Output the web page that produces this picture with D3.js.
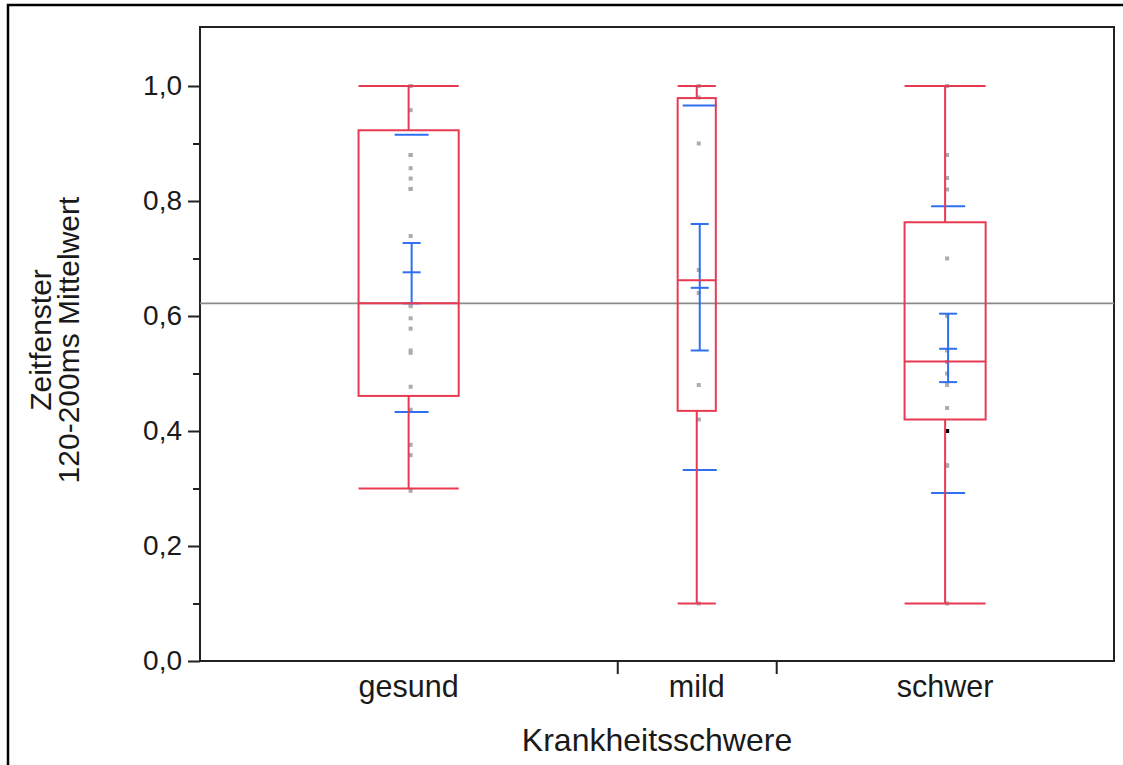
<!DOCTYPE html>
<html>
<head>
<meta charset="utf-8">
<script src="https://cdn.jsdelivr.net/npm/d3@7"></script>
<style>
  html, body { margin: 0; padding: 0; background: #fff; }
  svg text { font-family: "Liberation Sans", Arial, sans-serif; fill: #1a1a1a; }
</style>
</head>
<body>
<svg id="chart" width="1123" height="765"></svg>
<script>
// Groups and their sizes (group width on the x axis is proportional to N)
const categories = ["gesund", "mild", "schwer"];
const groupN = [21, 8, 17];

// Box-plot statistics per group
const whiskerHigh = [1.0, 1.0, 1.0];
const quartile3   = [0.923, 0.979, 0.763];
const medians     = [0.622, 0.662, 0.521];
const quartile1   = [0.461, 0.435, 0.420];
const whiskerLow  = [0.30, 0.10, 0.10];

// Mean, 95% confidence interval and ±1 SD per group
const means  = [0.676, 0.649, 0.543];
const ciHigh = [0.727, 0.760, 0.604];
const ciLow  = [0.622, 0.540, 0.485];
const sdHigh = [0.915, 0.966, 0.791];
const sdLow  = [0.433, 0.332, 0.292];

// Overall mean of all observations
const grandMean = 0.622;

// Individual observations
const pointsGesund = [1.0, 1.0, 0.958, 0.88, 0.88, 0.857, 0.839, 0.821, 0.821, 0.739,
                      0.62, 0.617, 0.596, 0.578, 0.536, 0.54, 0.477, 0.437, 0.376, 0.358, 0.296];
const pointsMild   = [1.0, 0.98, 0.90, 0.68, 0.64, 0.48, 0.42, 0.10];
const pointsSchwer = [1.0, 0.88, 0.84, 0.82, 0.70, 0.60, 0.54, 0.52, 0.50, 0.48,
                      0.44, 0.40, 0.40, 0.34, 0.34, 0.34, 0.10];
const observations = [pointsGesund, pointsMild, pointsSchwer];
// Highlighted observation (group index, value)
const highlighted = [{ group: 2, value: 0.40 }];

// Axis ticks
const yMajorTicks = [0, 0.2, 0.4, 0.6, 0.8, 1.0];
const yMinorTicks = [0.1, 0.3, 0.5, 0.7, 0.9];
const yTitleLines = ["Zeitfenster", "120-200ms Mittelwert"];
const xTitle = "Krankheitsschwere";

const plot = { left: 200, right: 1114, top: 27, bottom: 661 };
const red = "#e83a52", blue = "#2f6ff0";

const svg = d3.select("#chart");

// Outer frame of the graphic
svg.append("path")
  .attr("d", `M8,765 V5 H1123`)
  .attr("fill", "none").attr("stroke", "#000").attr("stroke-width", 2.5);

const y = d3.scaleLinear().domain([0, 1.1026]).range([plot.bottom, plot.top]);

// Cumulative group boundaries
const cum = [0];
groupN.forEach((n, i) => cum.push(cum[i] + n));
const x = d3.scaleLinear().domain([0, cum[cum.length - 1]]).range([plot.left, plot.right]);
const groups = categories.map((c, i) => {
  const x0 = x(cum[i]), x1 = x(cum[i + 1]);
  return { name: c, i, x0, x1, cx: (x0 + x1) / 2, half: (x1 - x0) * 0.12 };
});

const locale = d3.formatLocale({ decimal: ",", thousands: ".", grouping: [3], currency: ["", "€"] });
const fmt = locale.format(".1f");

// Plot frame
svg.append("rect")
  .attr("x", plot.left).attr("y", plot.top)
  .attr("width", plot.right - plot.left).attr("height", plot.bottom - plot.top)
  .attr("fill", "none").attr("stroke", "#222").attr("stroke-width", 2);

// Y axis: major ticks with labels, minor ticks without
const yAxis = svg.append("g").attr("transform", `translate(${plot.left},0)`)
  .call(d3.axisLeft(y).tickValues(yMajorTicks).tickSize(12).tickPadding(6).tickFormat(fmt));
yAxis.select(".domain").remove();
yAxis.selectAll("line").attr("stroke", "#222").attr("stroke-width", 2);
yAxis.selectAll("text").attr("font-size", 28).attr("fill", "#1a1a1a")
  .attr("font-family", "Liberation Sans, Arial, sans-serif");

const yMinor = svg.append("g").attr("transform", `translate(${plot.left},0)`)
  .call(d3.axisLeft(y).tickValues(yMinorTicks).tickSize(7).tickFormat(""));
yMinor.select(".domain").remove();
yMinor.selectAll("line").attr("stroke", "#222").attr("stroke-width", 2);

// X axis: ticks at the group boundaries
const xAxis = svg.append("g").attr("transform", `translate(0,${plot.bottom})`)
  .call(d3.axisBottom(x).tickValues(cum.slice(1, -1)).tickSize(13).tickFormat(""));
xAxis.select(".domain").remove();
xAxis.selectAll("line").attr("stroke", "#222").attr("stroke-width", 2);

// Category labels
svg.append("g").selectAll("text").data(groups).join("text")
  .attr("x", d => d.cx).attr("y", 697)
  .attr("text-anchor", "middle").attr("font-size", 30.5)
  .text(d => d.name);

// Axis titles
svg.append("text")
  .attr("x", (plot.left + plot.right) / 2).attr("y", 751)
  .attr("text-anchor", "middle").attr("font-size", 32)
  .text(xTitle);

const yTitle = svg.append("text")
  .attr("transform", "translate(51,340) rotate(-90)")
  .attr("text-anchor", "middle").attr("font-size", 30);
yTitle.selectAll("tspan").data(yTitleLines).join("tspan")
  .attr("x", 0).attr("dy", (d, i) => i === 0 ? 0 : 28)
  .text(d => d);

// Grand mean reference line
svg.append("line")
  .attr("x1", plot.left).attr("x2", plot.right)
  .attr("y1", y(grandMean)).attr("y2", y(grandMean))
  .attr("stroke", "#8a8a8a").attr("stroke-width", 1.6);

// Observations
const ptOffset = 2;
groups.forEach(g => {
  svg.append("g").selectAll("rect").data(observations[g.i]).join("rect")
    .attr("x", g.cx + ptOffset - 2).attr("y", d => y(d) - 2)
    .attr("width", 4).attr("height", 4)
    .attr("fill", "#acacac");
});
svg.append("g").selectAll("rect").data(highlighted).join("rect")
  .attr("x", d => groups[d.group].cx + ptOffset - 2).attr("y", d => y(d.value) - 2)
  .attr("width", 4).attr("height", 4).attr("fill", "#000");

// Mean, confidence interval and standard deviation marks
const stats = svg.append("g").attr("fill", "none").attr("stroke", blue).attr("stroke-width", 2);
const bOff = 3, ciHalf = 9, sdHalf = 17;
groups.forEach(g => {
  const i = g.i, bx = g.cx + bOff;
  stats.append("line").attr("x1", bx).attr("x2", bx)
    .attr("y1", y(ciHigh[i])).attr("y2", y(ciLow[i]));
  [ciHigh[i], ciLow[i], means[i]].forEach(v => {
    stats.append("line").attr("x1", bx - ciHalf).attr("x2", bx + ciHalf)
      .attr("y1", y(v)).attr("y2", y(v));
  });
  [sdHigh[i], sdLow[i]].forEach(v => {
    stats.append("line").attr("x1", bx - sdHalf).attr("x2", bx + sdHalf)
      .attr("y1", y(v)).attr("y2", y(v));
  });
});

// Box plots
const boxes = svg.append("g").attr("fill", "none").attr("stroke", red).attr("stroke-width", 2);
groups.forEach(g => {
  const i = g.i;
  // whiskers
  boxes.append("line").attr("x1", g.cx).attr("x2", g.cx)
    .attr("y1", y(whiskerHigh[i])).attr("y2", y(quartile3[i]));
  boxes.append("line").attr("x1", g.cx).attr("x2", g.cx)
    .attr("y1", y(quartile1[i])).attr("y2", y(whiskerLow[i]));
  // whisker caps
  [whiskerHigh[i], whiskerLow[i]].forEach(v => {
    boxes.append("line").attr("x1", g.cx - g.half).attr("x2", g.cx + g.half)
      .attr("y1", y(v)).attr("y2", y(v));
  });
  // box
  boxes.append("rect")
    .attr("x", g.cx - g.half).attr("y", y(quartile3[i]))
    .attr("width", 2 * g.half).attr("height", y(quartile1[i]) - y(quartile3[i]));
  // median
  boxes.append("line").attr("x1", g.cx - g.half).attr("x2", g.cx + g.half)
    .attr("y1", y(medians[i])).attr("y2", y(medians[i]));
});
</script>
</body>
</html>
